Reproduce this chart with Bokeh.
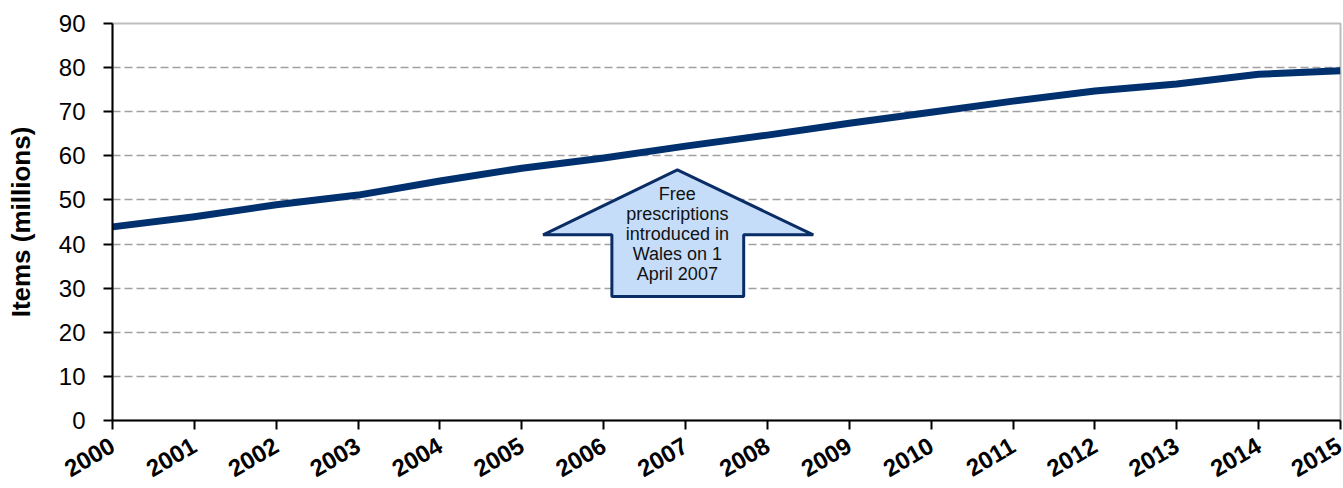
from bokeh.plotting import figure
from bokeh.models import FixedTicker, Range1d
from bokeh.core.properties import value
from bokeh.embed import file_html
from bokeh.resources import INLINE

years = list(range(2000, 2016))
items = [43.9, 46.2, 48.9, 51.1, 54.3, 57.2, 59.5, 62.2, 64.7, 67.4, 69.9, 72.4, 74.7, 76.3, 78.5, 79.3]
y_ticks = [0, 10, 20, 30, 40, 50, 60, 70, 80, 90]

# annotation arrow outline (data coordinates)
arrow_x = [2006.90, 2008.56, 2007.71, 2007.71, 2006.10, 2006.10, 2005.26]
arrow_y = [56.8, 42.1, 42.1, 28.1, 28.1, 42.1, 42.1]
note_text = "Free\nprescriptions\nintroduced in\nWales on 1\nApril 2007"
note_x = 2006.90
note_y = 42.3

FONT = "Liberation Sans"

p = figure(width=1343, height=488, output_backend="svg", toolbar_location=None,
           x_range=Range1d(2000, 2015), y_range=Range1d(0, 90),
           min_border_left=112, min_border_right=3, min_border_top=23, min_border_bottom=67)

p.line(years, items, line_color="#00306E", line_width=7, line_join="round")

p.patch(arrow_x, arrow_y, fill_color="#C5DDF9", line_color="#0B2D66", line_width=3)
p.text([note_x], [note_y], text=[note_text], text_align="center", text_baseline="middle",
       text_font=value(FONT), text_font_size="18px", text_color="#111111", text_line_height=1.0)

p.xgrid.visible = False
p.ygrid.grid_line_color = "#A0A0A0"
p.ygrid.grid_line_dash = "8 4"
p.ygrid.grid_line_width = 1.5
p.ygrid.ticker = FixedTicker(ticks=y_ticks)

p.outline_line_color = "#BDBDBD"
p.outline_line_width = 2

p.yaxis.ticker = FixedTicker(ticks=y_ticks)
p.xaxis.ticker = FixedTicker(ticks=years)
for ax in (p.xaxis[0], p.yaxis[0]):
    ax.axis_line_color = "black"
    ax.axis_line_width = 2
    ax.major_tick_line_color = "black"
    ax.major_tick_line_width = 2
    ax.major_tick_out = 9
    ax.major_tick_in = 0
    ax.minor_tick_line_color = None
    ax.major_label_text_font = FONT
    ax.major_label_text_color = "black"

p.yaxis.major_label_text_font_size = "24px"
p.yaxis.major_label_standoff = 18
p.yaxis.axis_label = "Items (millions)"
p.yaxis.axis_label_text_font = FONT
p.yaxis.axis_label_text_font_style = "bold"
p.yaxis.axis_label_text_font_size = "26px"
p.yaxis.axis_label_text_color = "black"
p.yaxis.axis_label_standoff = 20

p.xaxis.major_label_text_font_size = "24px"
p.xaxis.major_label_text_font_style = "bold"
p.xaxis.major_label_orientation = 0.53
p.xaxis.major_label_standoff = 14

open("out.html", "w").write(file_html(p, INLINE))
